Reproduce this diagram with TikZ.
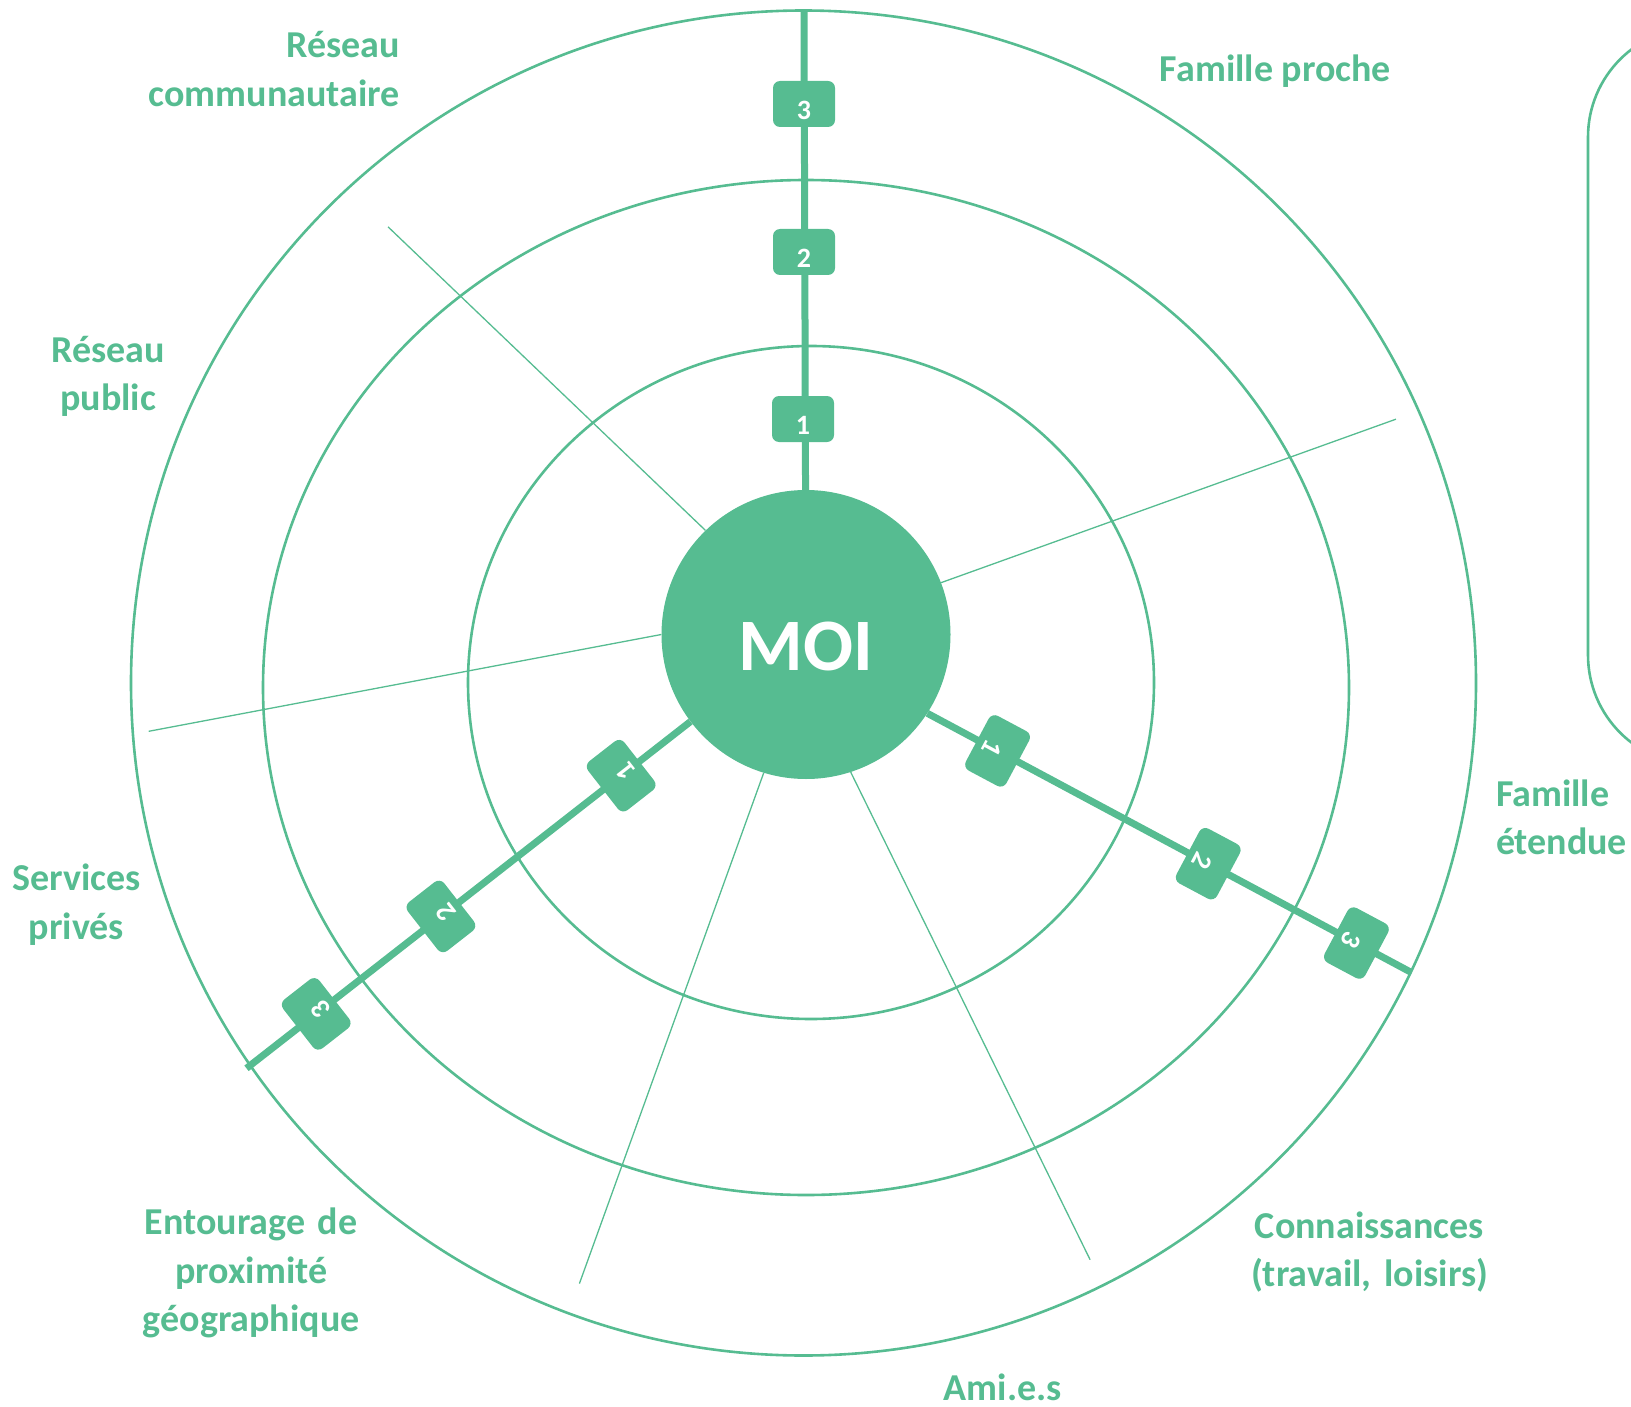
\documentclass[tikz,border=0pt]{standalone}
\usepackage{fontspec}
\setmainfont{Carlito}
\newfontfamily\badgefont{Carlito}
\definecolor{vert}{RGB}{86,188,145}
\begin{document}
\begin{tikzpicture}[x=1pt,y=-1pt,
  ring/.style={draw=vert,line width=2.6pt},
  spoke/.style={draw=vert,line width=1.3pt},
  thickaxis/.style={draw=vert,line width=7pt},
  badge/.style={fill=vert,rounded corners=7pt,minimum width=62pt,minimum height=46pt,
    inner sep=0pt,text=white,text height=34pt,text depth=3pt,
    font=\badgefont\bfseries\fontsize{28}{28}\selectfont},
  labeltext/.style={text=vert,inner sep=0pt,font=\bfseries\fontsize{38}{48.5}\selectfont},
  framebox/.style={draw=vert,line width=2.6pt,rounded corners=110pt}
]
\useasboundingbox (0,0) rectangle (1631,1407);
\clip (0,0) rectangle (1631,1407);
% rings
\draw[ring] (803.5,683) circle[radius=672.5];
\draw[ring] (806,687.5) ellipse[x radius=543,y radius=507.5];
\draw[ring] (811,682.5) ellipse[x radius=343,y radius=336.5];
% centre
\node[circle,fill=vert,minimum size=289pt,inner sep=0pt,text=white,
  font=\bfseries\fontsize{74}{74}\selectfont,text height=71pt,text depth=0pt] (moi) at (806,634.5) {MOI};
% free ends
\coordinate (ulend) at (388,226.8);
\coordinate (urend) at (1395.9,419.2);
\coordinate (lend) at (148.7,731.3);
\coordinate (blend) at (579.4,1283.6);
\coordinate (brend) at (1090.1,1259.7);
\coordinate (vtop) at (804,10.5);
\coordinate (lrend) at (1411.6,972.6);
\coordinate (llend) at (246.5,1068.3);
% spokes
\draw[spoke] (moi.134.7) -- (ulend);
\draw[spoke] (moi.21.2) -- (urend);
\draw[spoke] (moi.180.4) -- (lend);
\draw[spoke] (moi.253.4) -- (blend);
\draw[spoke] (moi.-72.7) -- (brend);
% thick axes
\draw[thickaxis] (vtop) -- (moi);
\draw[thickaxis] (moi.-33.4) -- (lrend);
\draw[thickaxis] (moi.217) -- (llend);
% badges
\node[badge] (v3) at (804,104) {3};
\node[badge] (v2) at (804,252) {2};
\node[badge] (v1) at (803,419) {1};
\path (moi.-33.4) -- (lrend)
  node[badge,pos=0.145,rotate=-118.06] (r1) {1}
  node[badge,pos=0.580,rotate=-118.06] (r2) {2}
  node[badge,pos=0.886,rotate=-118.06] (r3) {3};
\path (moi.217) -- (llend)
  node[badge,pos=0.156,rotate=127.96] (l1) {1}
  node[badge,pos=0.562,rotate=127.96] (l2) {2}
  node[badge,pos=0.843,rotate=127.96] (l3) {3};
% labels
\node[labeltext,text width=320pt,align=right,anchor=base east] (rc) at (400,58) {Réseau\\communautaire};
\node[labeltext,anchor=base] (fp) at (1275.5,82) {Famille proche};
\node[labeltext,text width=200pt,align=center,anchor=base] (rp) at (108.2,362) {Réseau\\public};
\node[labeltext,text width=200pt,align=center,anchor=base] (sp) at (76.5,890.5) {Services\\privés};
\node[labeltext,text width=200pt,align=left,anchor=base west] (fe) at (1495.8,806) {Famille\\étendue};
\node[labeltext,text width=300pt,align=center,anchor=base] (cn) at (1369.5,1238) {Connaissances\\(travail, loisirs)};
\node[labeltext,text width=300pt,align=center,anchor=base] (en) at (251.2,1234.8) {Entourage de\\proximité\\géographique};
\node[labeltext,anchor=base] (am) at (1002.8,1400) {Ami.e.s};
% right frame
\draw[framebox] (1588,27) rectangle (1800,765);
\end{tikzpicture}
\end{document}
